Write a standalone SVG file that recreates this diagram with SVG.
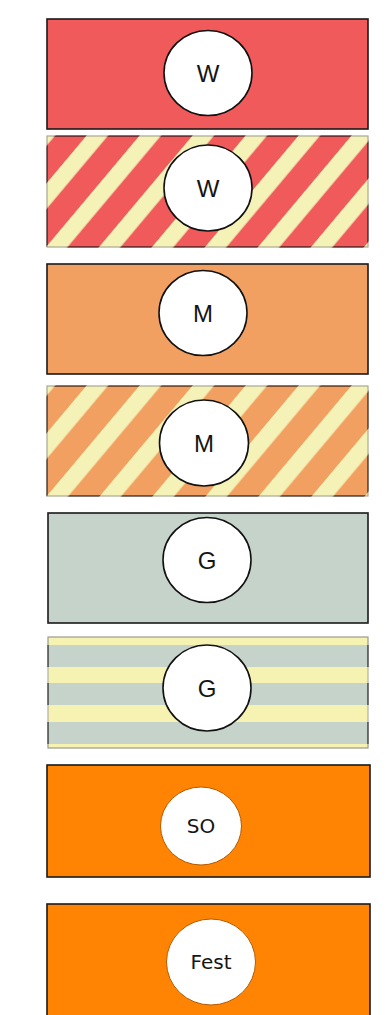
<svg xmlns="http://www.w3.org/2000/svg" width="388" height="1015" viewBox="0 0 388 1015">
  <defs>
    <pattern id="pRed" patternUnits="userSpaceOnUse" x="30" y="0" width="40.6" height="100" patternTransform="rotate(40)">
      <rect x="0" y="0" width="40.6" height="100" fill="#F05A5A"/>
      <rect x="0" y="0" width="16.5" height="100" fill="#F5F2B8"/>
    </pattern>
    <pattern id="pRedEdge" patternUnits="userSpaceOnUse" x="30" y="0" width="40.6" height="100" patternTransform="rotate(40)">
      <rect x="0" y="0" width="40.6" height="100" fill="#2a1414"/>
      <rect x="0" y="0" width="16.5" height="100" fill="#a8a890"/>
    </pattern>
    <pattern id="pOrg" patternUnits="userSpaceOnUse" x="30" y="0" width="40.6" height="100" patternTransform="rotate(40)">
      <rect x="0" y="0" width="40.6" height="100" fill="#F2A062"/>
      <rect x="0" y="0" width="16.5" height="100" fill="#F5F2B8"/>
    </pattern>
    <pattern id="pOrgEdge" patternUnits="userSpaceOnUse" x="30" y="0" width="40.6" height="100" patternTransform="rotate(40)">
      <rect x="0" y="0" width="40.6" height="100" fill="#2a1a10"/>
      <rect x="0" y="0" width="16.5" height="100" fill="#a8a890"/>
    </pattern>
    <pattern id="pGrey" patternUnits="userSpaceOnUse" x="0" y="0" width="320" height="111">
      <rect x="0" y="0" width="320" height="111" fill="#C6D3CB"/>
      <rect x="0" y="0" width="320" height="8" fill="#F6F3B2"/>
      <rect x="0" y="30" width="320" height="16" fill="#F6F3B2"/>
      <rect x="0" y="68" width="320" height="17" fill="#F6F3B2"/>
      <rect x="0" y="107" width="320" height="4" fill="#F6F3B2"/>
    </pattern>
    <pattern id="pGreyEdge" patternUnits="userSpaceOnUse" x="0" y="0" width="320" height="111">
      <rect x="0" y="0" width="320" height="111" fill="#1e1e1e"/>
      <rect x="0" y="0" width="320" height="8" fill="#9a9a8a"/>
      <rect x="0" y="30" width="320" height="16" fill="#b0b0a0"/>
      <rect x="0" y="68" width="320" height="17" fill="#b0b0a0"/>
      <rect x="0" y="107" width="320" height="4" fill="#9a9a8a"/>
    </pattern>
  </defs>
  <style>
    .solid { stroke: #1a1a1a; stroke-width: 1.6; }
    .hatch { stroke-width: 1.2; }
    .disc { fill: #ffffff; stroke: #111111; stroke-width: 1.6; }
    .disc2 { fill: #ffffff; stroke: #b55a00; stroke-width: 1; }
    .lbl { font-family: "Liberation Sans", Arial, sans-serif; font-size: 24px; fill: #151515; text-anchor: middle; }
    .lbl2 { font-family: "DejaVu Sans", Verdana, sans-serif; font-size: 20px; fill: #151515; text-anchor: middle; }
  </style>

  <g id="node-w1">
    <rect class="solid" x="47" y="19" width="321" height="110" fill="#F05A5A"/>
    <ellipse class="disc" cx="208" cy="73" rx="44" ry="42.5"/>
    <text class="lbl" x="208" y="82">W</text>
  </g>

  <g id="node-w2" transform="translate(47,136)">
    <rect class="hatch" x="0" y="0" width="321" height="111" fill="url(#pRed)" stroke="url(#pRedEdge)"/>
    <ellipse class="disc" cx="161" cy="52" rx="44" ry="43"/>
    <text class="lbl" x="161" y="61">W</text>
  </g>

  <g id="node-m1">
    <rect class="solid" x="47" y="264" width="321" height="110" fill="#F2A062"/>
    <ellipse class="disc" cx="203" cy="313" rx="44" ry="42.5"/>
    <text class="lbl" x="203" y="322">M</text>
  </g>

  <g id="node-m2" transform="translate(47,386)">
    <rect class="hatch" x="0" y="0" width="321" height="110" fill="url(#pOrg)" stroke="url(#pOrgEdge)"/>
    <ellipse class="disc" cx="157" cy="57" rx="44.5" ry="43"/>
    <text class="lbl" x="157" y="66">M</text>
  </g>

  <g id="node-g1">
    <rect class="solid" x="48" y="513" width="320" height="110" fill="#C6D3CB"/>
    <ellipse class="disc" cx="207" cy="560" rx="44" ry="42.5"/>
    <text class="lbl" x="207" y="569">G</text>
  </g>

  <g id="node-g2" transform="translate(48,637)">
    <rect class="hatch" x="0" y="0" width="320" height="111" fill="url(#pGrey)" stroke="url(#pGreyEdge)"/>
    <ellipse class="disc" cx="159" cy="51" rx="44" ry="43"/>
    <text class="lbl" x="159" y="60">G</text>
  </g>

  <g id="node-so">
    <rect class="solid" x="47" y="765" width="323" height="112" fill="#FF8403"/>
    <ellipse class="disc2" cx="201" cy="826" rx="40.5" ry="39"/>
    <text class="lbl2" x="201" y="833">SO</text>
  </g>

  <g id="node-fest">
    <rect class="solid" x="47" y="904" width="323" height="130" fill="#FF8403"/>
    <ellipse class="disc2" cx="211" cy="962" rx="44.5" ry="43"/>
    <text class="lbl2" x="211" y="969">Fest</text>
  </g>
</svg>
